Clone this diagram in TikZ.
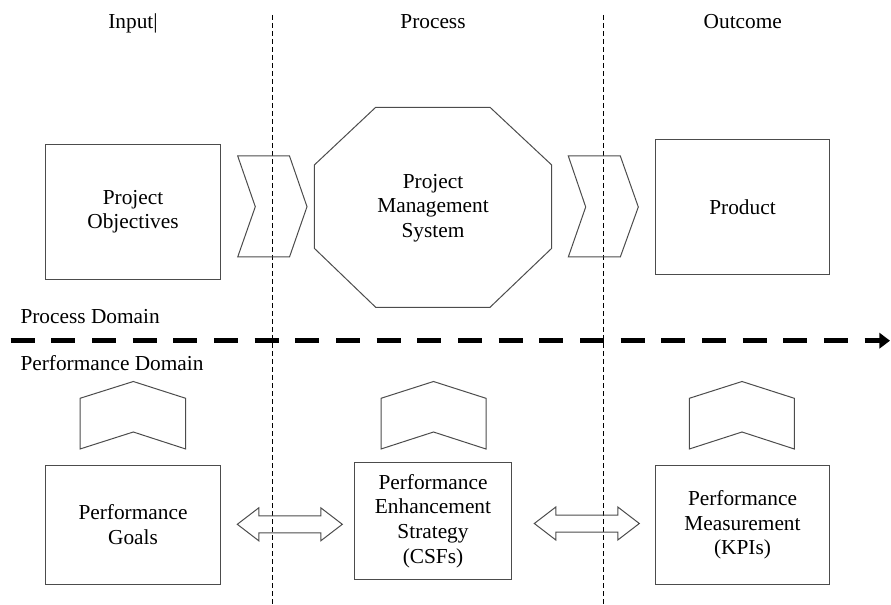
\documentclass[tikz,border=0pt]{standalone}
\usepackage{fontspec}
\setmainfont{Liberation Serif}
\usetikzlibrary{arrows.meta,shapes.arrows}

\tikzset{every picture/.style={line width=0.75pt}}
\tikzset{
  every node/.style={font=\fontsize{16}{18.5}\selectfont},
  box/.style={draw=black!70, line width=0.75pt, inner sep=0pt, align=center, minimum width=131pt, minimum height=101pt},
  lowbox/.style={box, minimum height=88.7pt},
  chevron/.style={draw=black!70, line width=0.75pt},
  dblarrow/.style={shape=double arrow, draw=black!70, line width=0.75pt, inner sep=0pt, inner ysep=6pt, minimum height=78.75pt, double arrow head extend=6pt, double arrow tip angle=75},
  divider/.style={dash pattern={on 3.75pt off 2.25pt}, line width=0.75pt},
  domainline/.style={dash pattern={on 18pt off 12.5pt}, line width=3.4pt, -{Triangle[length=8pt,width=11.5pt]}}
}

\begin{document}
\begin{tikzpicture}[x=0.75pt,y=0.75pt,yscale=-1,xscale=1]
        \useasboundingbox (0,0) rectangle (891,605);

        %Straight Lines [id:divider1]
        \draw  [divider]  (272.7,15) -- (272.7,605) ;
        %Straight Lines [id:divider2]
        \draw  [divider]  (603.3,15) -- (603.3,605) ;
        %Straight Lines [id:domain]
        \draw  [domainline]  (10.7,340.7) -- (890,340.7) ;

        %Shape: Rectangle [id:objectives]
        \draw (133,211.7) node (objectives) [box] {Project\\Objectives};
        %Shape: Chevron [id:chevron1]
        \draw  [chevron] (237.7,156) -- (289.5,156) -- (307,206.7) -- (289.5,257) -- (237.7,257) -- (255.3,206.7) -- cycle ;
        %Shape: Octagon [id:pms]
        \draw  [chevron] (375.7,107.3) -- (490,107.3) -- (551.7,165) -- (551.7,248.3) -- (490,307.3) -- (375.7,307.3) -- (314.3,248.3) -- (314.3,165) -- cycle ;
        \draw (433,208) node (pms) [align=center] {Project\\Management\\System};
        %Shape: Chevron [id:chevron2]
        \draw  [chevron] (568.3,156) -- (620.3,156) -- (638.3,207) -- (620.3,257) -- (568.3,257) -- (585.7,207) -- cycle ;
        %Shape: Rectangle [id:product]
        \draw (742.5,207) node (product) [box] {Product};

        %Shape: Chevron [id:upchevron1]
        \draw  [chevron] (80,449) -- (80,398.3) -- (133.3,381.5) -- (185.7,398.3) -- (185.7,449) -- (133.3,432) -- cycle ;
        %Shape: Chevron [id:upchevron2]
        \draw  [chevron] (381,449) -- (381,398.3) -- (433.5,381.5) -- (486,398.3) -- (486,449) -- (433.5,432) -- cycle ;
        %Shape: Chevron [id:upchevron3]
        \draw  [chevron] (689.3,449) -- (689.3,398.3) -- (742,381.5) -- (794.3,398.3) -- (794.3,449) -- (742,432) -- cycle ;

        %Shape: Rectangle [id:goals]
        \draw (133,524.9) node (goals) [lowbox] {Performance\\Goals};
        %Shape: Rectangle [id:strategy]
        \draw (433,520.8) node (strategy) [lowbox, minimum width=118pt, minimum height=87.75pt] {Performance\\Enhancement\\Strategy\\(CSFs)};
        %Shape: Rectangle [id:measurement]
        \draw (742.5,524.9) node (measurement) [lowbox] {Performance\\Measurement\\(KPIs)};

        %Shape: Double Arrow [id:link1]
        \draw (289.8,524.3) node (link1) [dblarrow] {};
        %Shape: Double Arrow [id:link2]
        \draw (586.8,523.5) node (link2) [dblarrow] {};

        % Text Node
        \draw (133,28.3) node (input) [anchor=base] {Input|};
        % Text Node
        \draw (433,28.3) node (process) [anchor=base] {Process};
        % Text Node
        \draw (742.8,28.3) node (outcome) [anchor=base] {Outcome};
        % Text Node
        \draw (20,323.3) node (processdomain) [anchor=base west, inner sep=0pt] {Process Domain};
        % Text Node
        \draw (20,370.7) node (perfdomain) [anchor=base west, inner sep=0pt] {Performance Domain};
\end{tikzpicture}
\end{document}
